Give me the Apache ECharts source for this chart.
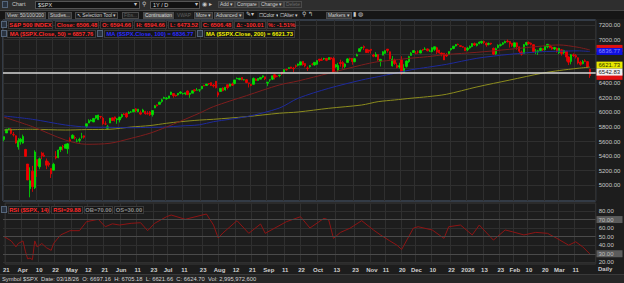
<!DOCTYPE html>
<html><head><meta charset="utf-8">
<script src="https://cdn.jsdelivr.net/npm/echarts@6/dist/echarts.min.js"></script>
<style>
html,body{margin:0;padding:0;background:#1d1d1d;}
#wrap{position:relative;width:624px;height:283px;overflow:hidden;background:#1d1d1d;font-family:"Liberation Sans",Arial,sans-serif;}
#chart{position:absolute;left:0;top:0;width:624px;height:283px;}
.ov{position:absolute;white-space:nowrap;pointer-events:none;}
.r1{left:0;top:0;width:624px;height:10px;background:#2e2e2e;border-bottom:1px solid #454545;}
.r2{left:0;top:11px;width:624px;height:8px;background:#161616;}
.t{position:absolute;font:5.5px/7px "Liberation Sans",Arial,sans-serif;color:#c8c8c8;white-space:nowrap;}
.btn{position:absolute;height:7px;font:4.9px/5.5px "Liberation Sans",Arial,sans-serif;color:#cfcfcf;background:#363636;border:1px solid #4a4a4a;white-space:nowrap;box-sizing:border-box;padding:0 1px;text-align:center;letter-spacing:-0.05px;}
.inp{position:absolute;height:8px;background:#121212;border:1px solid #555;box-sizing:border-box;font:5.5px/6px "Liberation Sans",Arial;color:#ddd;padding-left:2px;}
.lg{position:absolute;height:8px;font:bold 5.8px/7px "Liberation Sans",Arial,sans-serif;background:#161616;border:1px solid #3a3a3a;white-space:nowrap;box-sizing:border-box;padding:0;text-align:center;}
.ic{position:absolute;width:6px;height:7px;background:#2a3340;border:1px solid #55657a;box-sizing:border-box;}
.status{left:0;top:274px;width:624px;height:9px;background:#262626;border-top:1px solid #3a3a3a;}
</style></head>
<body>
<div id="wrap">
<div id="chart"></div>
<div class="ov r1">
 <div class="ic" style="left:2px;top:1px"></div>
 <span class="t" style="left:12px;top:1px">Chart</span>
 <div class="inp" style="left:35px;top:1px;width:105px">$SPX</div>
 <span class="t" style="left:134px;top:1px">▾</span>
 <span class="t" style="left:142px;top:1px">⚲</span>
 <div class="inp" style="left:150px;top:1px;width:50px">1Y / D</div>
 <span class="t" style="left:195px;top:1px">▾</span>
 <span class="t" style="left:202px;top:1px">◉</span>
 <span class="t" style="left:209px;top:1px">▸</span>
 <div class="btn" style="left:218px;top:1px">Add ▾</div>
 <div class="btn" style="left:235px;top:1px">Compare</div>
 <div class="btn" style="left:259px;top:1px">Change ▾</div>
 <div class="btn" style="left:284px;top:1px;color:#6a6a6a;background:#2e2e2e">Delete</div>
</div>
<div class="ov r2">
 <div class="btn" style="left:5px;top:1px">View: 50/100/200</div>
 <div class="btn" style="left:48px;top:1px">Studies...</div>
 <div class="btn" style="left:75px;top:1px;background:#1e1e1e">↖ Selection Tool ▾</div>
 <div class="btn" style="left:122px;top:1px;color:#5e5e5e;background:#1e1e1e">Fibs...</div>
 <div class="btn" style="left:143px;top:1px;background:#4a4a4a;color:#dcdcdc">Continuation</div>
 <div class="btn" style="left:175px;top:1px;color:#5e5e5e;background:#1e1e1e;border-color:#1e1e1e">VWAP</div>
 <div class="btn" style="left:194px;top:1px">More ▾</div>
 <div class="btn" style="left:214px;top:1px">Advanced ▾</div>
 <span class="t" style="left:246px;top:0px">✎▾</span>
 <div class="btn" style="left:257px;top:1px;background:#1e1e1e;border-color:#1e1e1e">☐Color ▾</div>
 <div class="btn" style="left:278px;top:1px;background:#1e1e1e;border-color:#1e1e1e">☐Alter ▾</div>
 <span class="t" style="left:302px;top:0px">⚲ ↰</span>
 <div class="btn" style="left:326px;top:1px">Markers ▾</div>
 <span class="t" style="left:353px;top:0px">▮ ◍</span>
</div>
<div class="ov" style="left:0;top:21px;width:300px;height:18px">
 <div class="ic" style="left:1px;top:0"></div>
 <div class="lg" style="left:8px;top:0;width:45px;color:#ff2a2a">S&amp;P 500 INDEX</div>
 <div class="lg" style="left:55px;top:0;width:44px;color:#ff2a2a">Close: 6506.48</div>
 <div class="lg" style="left:100px;top:0;width:33px;color:#ff2a2a">O: 6594.66</div>
 <div class="lg" style="left:134px;top:0;width:33px;color:#ff2a2a">H: 6594.66</div>
 <div class="lg" style="left:168px;top:0;width:32px;color:#ff2a2a">L: 6473.52</div>
 <div class="lg" style="left:201px;top:0;width:32px;color:#ff2a2a">C: 6506.48</div>
 <div class="lg" style="left:234px;top:0;width:32px;color:#ff2a2a">Δ: -100.01</div>
 <div class="lg" style="left:267px;top:0;width:29px;color:#ff2a2a">%: -1.51%</div>
 <div class="ic" style="left:1px;top:9px"></div>
 <div class="lg" style="left:7px;top:9px;width:89px;color:#ff2a2a">MA ($SPX.Close, 50) = 6857.76</div>
 <div class="ic" style="left:97px;top:9px"></div>
 <div class="lg" style="left:104px;top:9px;width:92px;color:#2a2aff">MA ($SPX.Close, 100) = 6836.77</div>
 <div class="ic" style="left:197px;top:9px"></div>
 <div class="lg" style="left:204px;top:9px;width:91px;color:#f2f200">MA ($SPX.Close, 200) = 6621.73</div>
</div>
<div class="ov" style="left:0;top:206px;width:150px;height:8px">
 <div class="ic" style="left:1px;top:0"></div>
 <div class="lg" style="left:8px;top:0;width:42px;color:#ff2a2a">RSI ($SPX, 14)</div>
 <div class="lg" style="left:51px;top:0;width:32px;color:#ff2a2a">RSI=29.88</div>
 <div class="lg" style="left:84px;top:0;width:29px;color:#8a8a8a">OB=70.00</div>
 <div class="lg" style="left:114px;top:0;width:30px;color:#8a8a8a">OS=30.00</div>
</div>
<span class="t ov" style="left:598px;top:266px;font-weight:bold;font-size:6px">Daily</span>
<div class="ov status">
 <span class="t" style="left:2px;top:1px;color:#d0d0d0;font-size:5.8px">Symbol $SPX&nbsp; Date: 03/18/26&nbsp; O: 6697.16&nbsp; H: 6705.18&nbsp; L: 6621.66&nbsp; C: 6624.70&nbsp; Vol: 2,995,972,600</span>
</div>
</div>
<script>
// ---------- data ----------
const holidays = ['2025-04-18','2025-05-26','2025-06-19','2025-07-04','2025-09-01','2025-11-27','2025-12-25','2026-01-01','2026-01-19','2026-02-16'];
const firstDay = '2025-03-21', lastDay = '2026-03-19';
function tradingDays(a, b, hol){
  const out=[]; const d=new Date(a+'T12:00:00Z'); const end=new Date(b+'T12:00:00Z');
  while(d<=end){const w=d.getUTCDay();const s=d.toISOString().slice(0,10);if(w!==0&&w!==6&&hol.indexOf(s)<0)out.push(s);d.setUTCDate(d.getUTCDate()+1);}
  return out;
}
const dates = tradingDays(firstDay, lastDay, holidays);

const opens = [
5630,5718,5776,5772,5696,5679,5527,
5597,5580,5492,5292,4954,5194,4965,5353,5255,5442,5411,5335,5305,5232,5207,5395,5381,5489,5530,5509,5500,
5625,5645,5655,5605,5616,5663,5679,5807,5854,5881,5870,5922,5902,5944,5921,5842,5782,5855,5926,5939,5903,
5897,5939,5978,5985,5988,6005,6010,6049,6010,5997,6005,6013,5984,6005,5970,6062,6104,6111,6151,6193,
6187,6194,6246,6260,6238,6241,6265,6256,6255,6295,6248,6264,6311,6304,6307,6326,6368,6370,6397,6409,6374,6428,
6271,6287,6336,6309,6380,6360,6390,6398,6460,6453,6479,6446,6449,6406,6384,6386,6458,6440,6457,6485,6489,
6401,6444,6457,6518,6500,6506,6555,6552,6590,6603,6624,6608,6641,6646,6650,6701,6672,6609,6627,6662,6652,
6660,6732,6722,6734,6742,6728,6751,6740,6624,6578,6685,6686,6630,6686,6737,6742,6697,6773,6838,6889,6904,6867,6857,
6867,6787,6766,6792,6704,6786,6811,6869,6833,6639,6720,6647,6623,6721,6548,6632,6697,6782,6823,
6813,6830,6815,6866,6866,6872,6840,6835,6866,6888,6857,6815,6813,6795,6794,6862,6878,6912,6936,6916,6903,6890,
6860,6885,6905,6945,6920,6945,6955,6975,6950,6935,6950,6880,6805,6890,6920,6935,6955,6980,6975,6950,
6900,6955,6900,6830,6810,6930,6960,6950,6930,6840,6830,6850,6875,6860,6900,6925,6895,6870,6880,
6820,6860,6820,6840,6760,6700,6790,6780,6750,6690,6670,6710,6697.16,6594.66];
const highs = [
5670,5775,5786,5784,5732,5685,5650,
5651,5696,5500,5293,5247,5267,5481,5353,5381,5460,5450,5368,5329,5233,5309,5469,5489,5528,5554,5571,5581,
5658,5700,5683,5641,5654,5720,5684,5846,5907,5906,5925,5959,5968,5953,5939,5879,5829,5922,5930,5943,5922,
5940,5982,5991,5999,6017,6021,6043,6059,6046,6027,6050,6023,6018,6018,6028,6101,6109,6146,6188,6216,
6211,6228,6284,6263,6242,6265,6290,6267,6272,6302,6268,6304,6315,6336,6310,6360,6381,6390,6402,6409,6391,6428,
6288,6330,6344,6350,6384,6395,6410,6446,6480,6473,6482,6458,6456,6407,6393,6480,6466,6466,6487,6509,6490,
6417,6453,6503,6533,6508,6515,6555,6593,6600,6619,6627,6625,6656,6671,6697,6702,6676,6632,6649,6679,6690,
6718,6733,6751,6750,6743,6755,6755,6764,6665,6680,6724,6707,6675,6745,6752,6742,6748,6807,6877,6902,6920,6868,6862,
6869,6805,6828,6798,6735,6841,6852,6869,6835,6775,6738,6684,6682,6771,6662,6714,6777,6828,6850,
6843,6851,6862,6867,6895,6878,6865,6895,6904,6901,6857,6823,6814,6816,6836,6880,6910,6937,6945,6921,6908,6892,
6900,6920,6950,6960,6950,6975,6985,6985,6960,6960,6955,6890,6890,6935,6945,6965,6985,7000,6980,6955,
6960,6960,6905,6850,6940,6970,6975,6960,6935,6870,6860,6890,6880,6915,6940,6930,6910,6900,6890,
6885,6870,6860,6845,6770,6800,6810,6800,6755,6710,6720,6730,6705.18,6594.66];
const lows = [
5603,5718,5760,5699,5670,5572,5489,
5558,5571,5391,5070,4835,4910,4948,5116,5220,5358,5387,5221,5255,5101,5207,5356,5371,5456,5478,5506,5433,
5597,5639,5629,5590,5587,5640,5640,5786,5854,5876,5867,5907,5895,5915,5830,5827,5767,5855,5886,5875,5844,
5862,5919,5966,5921,5978,5994,6003,6003,6005,5963,6005,5969,5971,5952,5943,6059,6081,6105,6133,6183,
6174,6191,6241,6202,6217,6231,6251,6245,6237,6242,6201,6264,6285,6303,6282,6318,6360,6364,6375,6365,6342,6331,
6212,6287,6290,6299,6315,6360,6364,6385,6458,6442,6441,6439,6400,6343,6360,6384,6438,6436,6457,6471,6444,
6361,6420,6444,6452,6483,6483,6516,6546,6575,6600,6598,6552,6611,6632,6650,6642,6619,6569,6614,6645,6641,
6657,6693,6708,6719,6703,6721,6718,6550,6613,6551,6628,6600,6606,6685,6709,6655,6688,6772,6836,6865,6856,6818,6813,
6809,6758,6760,6709,6631,6786,6805,6821,6724,6630,6652,6605,6603,6521,6538,6615,6680,6780,6819,
6800,6806,6810,6840,6858,6838,6834,6825,6843,6801,6806,6770,6720,6760,6786,6848,6868,6906,6922,6897,6890,6843,
6840,6875,6895,6915,6905,6935,6940,6940,6900,6920,6925,6790,6790,6880,6905,6925,6950,6960,6890,6900,
6890,6860,6810,6780,6805,6915,6930,6920,6820,6800,6790,6840,6840,6850,6880,6880,6860,6855,6820,
6800,6780,6800,6700,6650,6660,6760,6740,6660,6640,6660,6690,6621.66,6473.52];
const closes = [
5668,5768,5777,5712,5693,5581,5612,
5633,5671,5397,5074,5062,4983,5457,5268,5363,5406,5397,5276,5283,5158,5288,5376,5485,5525,5529,5561,5569,
5604,5687,5650,5607,5631,5664,5660,5844,5887,5893,5917,5958,5964,5940,5845,5842,5803,5922,5889,5912,5912,
5936,5970,5971,5939,6000,6006,6039,6022,6045,5977,6033,5983,5981,5968,6025,6092,6092,6141,6173,6205,
6198,6227,6279,6230,6226,6263,6280,6260,6269,6244,6264,6297,6297,6306,6310,6359,6363,6389,6390,6371,6363,6339,
6238,6330,6299,6345,6340,6389,6373,6446,6467,6469,6450,6449,6411,6396,6370,6467,6439,6466,6481,6502,6460,
6416,6448,6502,6482,6495,6513,6532,6587,6584,6615,6607,6600,6632,6664,6694,6657,6638,6605,6644,6661,6688,
6711,6715,6716,6740,6715,6754,6735,6553,6655,6644,6671,6629,6664,6735,6735,6699,6738,6792,6875,6891,6891,6822,6840,
6852,6772,6796,6720,6729,6832,6847,6851,6737,6734,6672,6617,6642,6539,6603,6705,6766,6813,6849,
6812,6829,6850,6857,6870,6847,6841,6887,6901,6827,6817,6800,6721,6775,6835,6878,6910,6932,6930,6906,6896,6846,
6880,6905,6945,6925,6940,6965,6975,6960,6925,6945,6940,6800,6875,6920,6930,6955,6975,6970,6940,6920,
6955,6900,6840,6800,6930,6960,6945,6935,6835,6840,6845,6880,6860,6905,6935,6890,6870,6890,6840,
6880,6810,6850,6760,6690,6790,6780,6760,6680,6660,6700,6700,6624.70,6506.48];

// moving averages at these bar positions
const maAt   = [0,12,26,35,45,54,62,69,75,83,89,103,117,125,138,152,159,166,173,180,188,201,215,229,236,244,249];
const ma50   = [5934,5805,5622,5563,5577,5645,5715,5800,5880,5990,6080,6230,6377,6432,6537,6651,6697,6720,6745,6765,6795,6825,6867,6912,6926,6894,6858];
const ma100  = [5951,5906,5828,5800,5796,5790,5796,5800,5814,5830,5873,5942,6060,6195,6331,6445,6491,6537,6585,6620,6660,6743,6798,6834,6840,6845,6837];
const ma200  = [5759,5769,5759,5765,5769,5800,5820,5851,5873,5895,5906,5942,5989,6006,6057,6102,6148,6171,6195,6216,6249,6350,6445,6540,6575,6606,6622];

// RSI(14)
const rsiAt  = [0,3,5,6,8,9,10,11,12,13,14,16,18,20,21,24,28,32,35,40,43,46,49,54,58,61,64,69,71,77,86,89,91,93,99,104,109,111,120,126,130,136,138,140,143,147,152,157,160,164,167,169,172,174,176,182,187,189,194,199,202,208,213,216,221,226,231,235,240,243,246,249];
const rsiVal = [50,45,38,42,45,33,24,25,23,45,38,42,37,34,42,52,57,57,67.5,70.3,61.6,65,63.6,65.6,66.3,57,65.6,73.3,75.3,70.3,76.5,63.6,48.4,54.3,68.7,53.9,64.8,53.9,67.5,73.3,60.1,71.5,69.5,48,55,59.8,68.7,57.8,52,45,40,35,50,60,61.6,57.8,48,61.6,63.6,52,63.6,46,57.8,55.8,52,55,53.9,48,40,44,38,29.88];

const levelLine = 6542.83;
const tickDates = ['2025-03-21','2025-04-01','2025-04-10','2025-04-22','2025-05-01','2025-05-12','2025-05-21','2025-06-02','2025-06-11','2025-06-23','2025-07-01','2025-07-11','2025-07-23','2025-08-01','2025-08-12','2025-08-21','2025-09-02','2025-09-11','2025-09-22','2025-10-01','2025-10-13','2025-10-23','2025-11-03','2025-11-11','2025-11-20','2025-12-01','2025-12-10','2025-12-22','2026-01-02','2026-01-13','2026-01-23','2026-02-02','2026-02-10','2026-02-20','2026-03-02','2026-03-11'];
const tickTexts = ['21','Apr','10','22','May','12','21','Jun','11','23','Jul','11','23','Aug','12','21','Sep','11','22','Oct','13','23','Nov','11','20','Dec','10','22','2026','13','23','Feb','10','20','Mar','11'];
const hiddenPriceLabels = [6600, 6800]; // covered by value tags in the reference

// ---------- chart ----------
const cats = dates.concat([' ', '  ']);
const tickMap = {}; tickDates.forEach((d,i)=>tickMap[d]=tickTexts[i]);
const isTick = (idx, v) => tickMap[v] !== undefined;
const GL = 3, GW = 592.7;
const gridCol = '#2f2f2f';
const chart = echarts.init(document.getElementById('chart'), null, {renderer:'svg', width:624, height:283});
const candle = dates.map((d,i)=>[opens[i], closes[i], lows[i], highs[i]]);
const pairs = (idx, vals) => idx.map((k,i)=>[k, vals[i]]);
const hiddenX = (gi) => ({type:'category', gridIndex:gi, data:cats, boundaryGap:true, axisLine:{show:false}, axisTick:{show:false}, axisLabel:{show:false}, splitLine:{show:false}});
const opt = {
  backgroundColor:'#1d1d1d',
  animation:false,
  grid:[
    {left:GL, top:20, width:GW, height:181, show:true, borderColor:'#4b5a70', borderWidth:1, backgroundColor:'transparent'},
    {left:GL, top:25, width:GW, height:160.3},
    {left:GL, top:211, width:GW, height:51.3},
    {left:GL, top:203, width:GW, height:61, show:true, borderColor:'#3a3a3a', borderWidth:1}
  ],
  xAxis:[
    Object.assign(hiddenX(0), {splitLine:{show:true, interval:isTick, lineStyle:{color:gridCol, width:1}}}),
    hiddenX(1),
    hiddenX(2),
    Object.assign(hiddenX(3), {splitLine:{show:true, interval:isTick, lineStyle:{color:gridCol, width:1}},
      axisLabel:{show:true, interval:isTick, formatter:v=>tickMap[v]||'', color:'#cfcfcf', fontSize:6, fontWeight:'bold', margin:3, fontFamily:'Liberation Sans'}})
  ],
  yAxis:[
    {type:'value', gridIndex:0, min:0, max:1, show:false, splitLine:{show:false}},
    {type:'value', gridIndex:1, min:5000, max:7200, interval:200, position:'right', axisLine:{show:false}, axisTick:{show:false},
      axisLabel:{color:'#c8c8c8', fontSize:6, margin:3, fontFamily:'Liberation Sans', formatter:v=>hiddenPriceLabels.indexOf(v)>=0?'':v.toFixed(2)},
      splitLine:{show:true, lineStyle:{color:gridCol, width:1}}},
    {type:'value', gridIndex:2, min:20, max:80, interval:10, position:'right', axisLine:{show:false}, axisTick:{show:false},
      axisLabel:{color:'#c8c8c8', fontSize:6, margin:3, fontFamily:'Liberation Sans', formatter:v=>(v===70||v===30)?'':v.toFixed(2)},
      splitLine:{show:true, lineStyle:{color:gridCol, width:1}}},
    {type:'value', gridIndex:3, min:0, max:1, show:false, splitLine:{show:false}}
  ],
  series:[
    {type:'candlestick', xAxisIndex:1, yAxisIndex:1, data:candle, clip:false, barWidth:1.9,
      itemStyle:{color:'#00e000', color0:'#f00000', borderColor:'#00e000', borderColor0:'#f00000', borderWidth:0.8},
      markLine:{silent:true, symbol:'none', label:{show:false}, lineStyle:{color:'#d6d6d6', width:1.6, type:'solid'}, data:[{yAxis:levelLine}]}},
    {type:'line', xAxisIndex:1, yAxisIndex:1, data:pairs(maAt, ma200), showSymbol:false, smooth:0.3, lineStyle:{color:'#8c8c1e', width:1}},
    {type:'line', xAxisIndex:1, yAxisIndex:1, data:pairs(maAt, ma100), showSymbol:false, smooth:0.3, lineStyle:{color:'#1e2a9c', width:1}},
    {type:'line', xAxisIndex:1, yAxisIndex:1, data:pairs(maAt, ma50), showSymbol:false, smooth:0.3, lineStyle:{color:'#7e1e1e', width:1}},
    {type:'line', xAxisIndex:2, yAxisIndex:2, data:pairs(rsiAt, rsiVal), showSymbol:false, clip:false, lineStyle:{color:'#8e1414', width:1},
      markLine:{silent:true, symbol:'none', label:{show:false}, lineStyle:{color:'#4a4a4a', width:1, type:'solid'}, data:[{yAxis:70},{yAxis:50},{yAxis:30}]}}
  ]
};
chart.setOption(opt);

// value tags on the right axes (positions come from the axis scales)
const tags = [
  {v:ma50[ma50.length-1], txt:'', bg:'#e01010', fg:'#300000', dy:-1.5, ax:1},
  {v:ma100[ma100.length-1], txt:'6836.77', bg:'#1010e0', fg:'#8a8aff', dy:0, ax:1},
  {v:closes[closes.length-1], txt:'', bg:'#e01010', fg:'#300000', dy:0.8, ax:1},
  {v:ma200[ma200.length-1], txt:'6621.73', bg:'#e8e800', fg:'#303000', dy:-2, ax:1},
  {v:levelLine, txt:'6542.83', bg:'#f0f0f0', fg:'#202020', dy:-0.8, ax:1},
  {v:70, txt:'70.00', bg:'#5c5c5c', fg:'#bdbdbd', dy:0, ax:2},
  {v:30, txt:'30.00', bg:'#5c5c5c', fg:'#bdbdbd', dy:0, ax:2}
];
const g = [];
tags.forEach(t=>{
  const y = chart.convertToPixel({yAxisIndex:t.ax}, t.v) + t.dy;
  g.push({type:'rect', shape:{x:596.5, y:y-3.5, width:26, height:7}, style:{fill:t.bg}, z:100});
  if (t.txt) g.push({type:'text', x:598.5, y:y, style:{text:t.txt, fill:t.fg, font:'6px "Liberation Sans"', verticalAlign:'middle'}, z:101});
});
chart.setOption({graphic:g});
</script>
</body></html>
